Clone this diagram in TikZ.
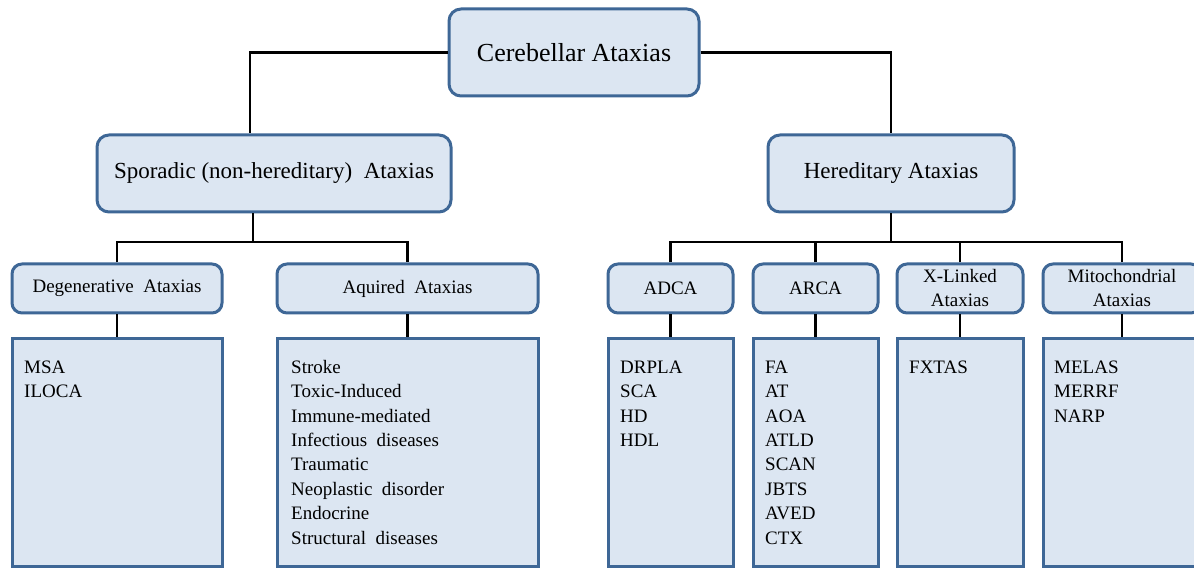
\documentclass[tikz,border=0pt]{standalone}
\usepackage{fontspec}
\setmainfont{Liberation Serif}
\definecolor{boxfill}{HTML}{DCE6F2}
\definecolor{boxline}{HTML}{3E6796}
\begin{document}
\begin{tikzpicture}[x=1pt,y=-1pt,
  box/.style={draw=boxline, fill=boxfill, line width=3pt, rounded corners=12pt, inner sep=0pt, align=center},
  listbox/.style={draw=boxline, fill=boxfill, line width=3pt, inner sep=0pt},
  listtext/.style={anchor=north west, inner sep=0pt, align=left, font=\fontsize{19}{24.4}\selectfont},
  lab/.style={font=\fontsize{19}{24}\selectfont},
  conn/.style={line width=2.4pt, black}]
\useasboundingbox (0,0) rectangle (1194,569);
\clip (0,0) rectangle (1194,569);

% level 1
\node[box, minimum width=250pt, minimum height=87pt, font=\fontsize{26}{30}\selectfont] (top) at (574,52.5) {Cerebellar Ataxias};

% level 2
\node[box, minimum width=354pt, minimum height=77pt, font=\fontsize{23}{27}\selectfont] (spor) at (274,173.5) {Sporadic (non-hereditary)\ \ Ataxias};
\node[box, minimum width=246pt, minimum height=77pt, font=\fontsize{23}{27}\selectfont] (her) at (891,173.5) {Hereditary Ataxias};

% level 3 labels
\node[box, lab, rounded corners=10pt, minimum width=210pt, minimum height=49pt] (deg) at (117,288.5) {Degenerative\ \ Ataxias};
\node[box, lab, rounded corners=10pt, minimum width=261pt, minimum height=49pt] (acq) at (407.5,288.5) {Aquired\ \ Ataxias};
\node[box, lab, rounded corners=10pt, minimum width=125pt, minimum height=49pt] (adca) at (670.5,288.5) {ADCA};
\node[box, lab, rounded corners=10pt, minimum width=125pt, minimum height=49pt] (arca) at (815.5,288.5) {ARCA};
\node[box, lab, rounded corners=10pt, minimum width=126pt, minimum height=49pt] (xl) at (960,288.5) {X-Linked\\Ataxias};
\node[box, lab, rounded corners=10pt, minimum width=158pt, minimum height=49pt] (mito) at (1122,288.5) {Mitochondrial\\Ataxias};

% list boxes
\node[listbox, minimum width=210pt, minimum height=228pt] (degL) at (117,452) {};
\node[listbox, minimum width=261pt, minimum height=228pt] (acqL) at (407.5,452) {};
\node[listbox, minimum width=125pt, minimum height=228pt] (adcaL) at (670.5,452) {};
\node[listbox, minimum width=125pt, minimum height=228pt] (arcaL) at (815.5,452) {};
\node[listbox, minimum width=126pt, minimum height=228pt] (xlL) at (960,452) {};
\node[listbox, minimum width=158pt, minimum height=228pt] (mitoL) at (1122,452) {};

\node[listtext] (degT) at (24,356) {\strut MSA\\ILOCA};
\node[listtext] (acqT) at (291,356) {\strut Stroke\\Toxic-Induced\\Immune-mediated\\Infectious\ \ diseases\\Traumatic\\Neoplastic\ \ disorder\\Endocrine\\Structural\ \ diseases};
\node[listtext] (adcaT) at (620,356) {\strut DRPLA\\SCA\\HD\\HDL};
\node[listtext] (arcaT) at (765,356) {\strut FA\\AT\\AOA\\ATLD\\SCAN\\JBTS\\AVED\\CTX};
\node[listtext] (xlT) at (909,356) {\strut FXTAS};
\node[listtext] (mitoT) at (1054,356) {\strut MELAS\\MERRF\\NARP};

% junctions
\coordinate (sj) at (253,242);
\coordinate (hj) at (891,242);

% connectors
\draw[conn] (top.west) -| ([xshift=-24pt]spor.north);
\draw[conn] (top.east) -| (her.north);
\draw[conn] ([xshift=-21pt]spor.south) -- (sj);
\draw[conn] (deg.north) |- (sj) -| (acq.north);
\draw[conn] (her.south) -- (hj);
\draw[conn] (adca.north) |- (hj) -| (mito.north);
\draw[conn] (arca.north) -- (arca.north |- hj);
\draw[conn] (xl.north) -- (xl.north |- hj);
\draw[conn] (deg.south) -- (degL.north);
\draw[conn] (acq.south) -- (acqL.north);
\draw[conn] (adca.south) -- (adcaL.north);
\draw[conn] (arca.south) -- (arcaL.north);
\draw[conn] (xl.south) -- (xlL.north);
\draw[conn] (mito.south) -- (mitoL.north);
\end{tikzpicture}
\end{document}
